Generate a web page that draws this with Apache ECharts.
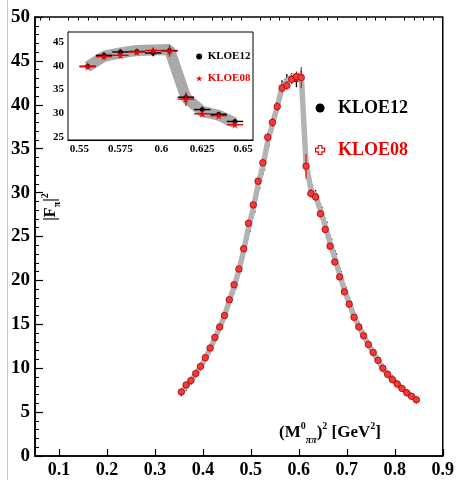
<!DOCTYPE html>
<html>
<head>
<meta charset="utf-8">
<script src="https://cdn.jsdelivr.net/npm/echarts@6/dist/echarts.min.js"></script>
<style>
html, body { margin: 0; padding: 0; background: #fff; }
#chart { width: 457px; height: 480px; }
</style>
</head>
<body>
<div id="chart"></div>
<script>
// 分箱中心 (GeV^2)
const binX = [0.355, 0.365, 0.375, 0.385, 0.395, 0.405, 0.415, 0.425, 0.435, 0.445,
              0.455, 0.465, 0.475, 0.485, 0.495, 0.505, 0.515, 0.525, 0.535, 0.545,
              0.555, 0.565, 0.575, 0.585, 0.595, 0.605, 0.615, 0.625, 0.635, 0.645,
              0.655, 0.665, 0.675, 0.685, 0.695, 0.705, 0.715, 0.725, 0.735, 0.745,
              0.755, 0.765, 0.775, 0.785, 0.795, 0.805, 0.815, 0.825, 0.835, 0.845];
const binHalfWidth = 0.005;

// KLOE12
const kloe12Y = [7.2, 7.8, 8.5, 9.3, 10.1, 11.0, 12.1, 13.3, 14.6, 15.9,
                 17.5, 19.0, 21.0, 23.2, 25.6, 27.8, 30.5, 32.6, 35.4, 37.6,
                 39.9, 42.2, 42.9, 43.0, 42.7, 43.2, 33.4, 30.8, 29.8, 28.3,
                 26.6, 24.7, 23.0, 21.0, 19.2, 17.6, 16.1, 14.9, 13.8, 12.8,
                 11.8, 10.9, 10.1, 9.4, 8.8, 8.2, 7.7, 7.2, 6.8, 6.4];
const kloe12Err = [0.4, 0.4, 0.4, 0.4, 0.4, 0.4, 0.4, 0.4, 0.4, 0.5,
                   0.5, 0.5, 0.5, 0.5, 0.5, 0.5, 0.6, 0.6, 0.6, 0.6,
                   0.6, 0.6, 0.6, 0.6, 0.7, 0.7, 0.8, 0.6, 0.5, 0.5,
                   0.5, 0.5, 0.5, 0.5, 0.5, 0.5, 0.5, 0.4, 0.4, 0.4,
                   0.4, 0.4, 0.4, 0.4, 0.4, 0.4, 0.4, 0.4, 0.4, 0.4];

// KLOE08
const kloe08Y = [7.3, 8.1, 8.6, 9.4, 10.2, 11.2, 12.3, 13.5, 14.7, 16.0,
                 17.8, 19.5, 21.3, 23.6, 26.5, 28.6, 31.3, 33.4, 36.3, 38.0,
                 39.8, 41.9, 42.2, 42.9, 43.2, 43.1, 33.0, 29.9, 29.5, 27.6,
                 25.8, 23.9, 22.1, 20.4, 18.7, 17.3, 15.8, 14.7, 13.7, 12.7,
                 11.8, 10.9, 10.0, 9.3, 8.7, 8.2, 7.7, 7.2, 6.8, 6.4];
const kloe08Err = [0.3, 0.3, 0.3, 0.3, 0.3, 0.3, 0.3, 0.3, 0.3, 0.3,
                   0.3, 0.3, 0.3, 0.4, 0.4, 0.4, 0.4, 0.4, 0.5, 0.5,
                   0.5, 0.5, 0.5, 0.5, 0.6, 1.2, 1.4, 0.5, 0.4, 0.4,
                   0.4, 0.4, 0.3, 0.3, 0.3, 0.3, 0.3, 0.3, 0.3, 0.3,
                   0.3, 0.3, 0.3, 0.3, 0.3, 0.3, 0.3, 0.3, 0.3, 0.3];

// 灰色误差带中心
const bandY = [7.25, 7.95, 8.55, 9.35, 10.15, 11.1, 12.2, 13.4, 14.65, 15.95,
               17.65, 19.25, 21.15, 23.4, 26.0, 28.2, 30.9, 33.0, 35.8, 37.8,
               39.8, 42.0, 42.7, 43.2, 43.3, 43.4, 33.3, 30.4, 29.6, 28.0,
               26.2, 24.3, 22.5, 20.7, 18.9, 17.4, 15.9, 14.8, 13.7, 12.7,
               11.8, 10.9, 10.0, 9.3, 8.7, 8.2, 7.7, 7.2, 6.8, 6.4];

// 刻度
const xMajorTicks = [0.1, 0.2, 0.3, 0.4, 0.5, 0.6, 0.7, 0.8, 0.9];
const xMinorTicks = [0.06, 0.08, 0.12, 0.14, 0.16, 0.18, 0.22, 0.24, 0.26, 0.28,
                     0.32, 0.34, 0.36, 0.38, 0.42, 0.44, 0.46, 0.48, 0.52, 0.54,
                     0.56, 0.58, 0.62, 0.64, 0.66, 0.68, 0.72, 0.74, 0.76, 0.78,
                     0.82, 0.84, 0.86, 0.88];
const insetXTicks = [0.55, 0.575, 0.6, 0.625, 0.65];
const insetYTicks = [25, 30, 35, 40, 45];

const serif = 'Liberation Serif';
const starPath = 'path://M5,0L6.2,3.6L10,3.6L7,5.9L8.1,9.5L5,7.3L1.9,9.5L3,5.9L0,3.6L3.8,3.6Z';
const openCrossPath = 'path://M3,0H7V3H10V7H7V10H3V7H0V3H3Z';

const chart = echarts.init(document.getElementById('chart'));

const pts = (ys, errs) => binX.map((x, i) => errs ? [x, ys[i], errs[i]] : [x, ys[i]]);
const inInset = p => p[0] > 0.55 && p[0] < 0.65;

// 误差棒（十字）
function errBar(color, lw) {
    return function (params, api) {
        const x = api.value(0), y = api.value(1), e = api.value(2);
        const l = api.coord([x - binHalfWidth, y]);
        const r = api.coord([x + binHalfWidth, y]);
        const t = api.coord([x, y + e]);
        const b = api.coord([x, y - e]);
        return {
            type: 'group',
            children: [
                { type: 'line', shape: { x1: l[0], y1: l[1], x2: r[0], y2: r[1] }, style: { stroke: color, lineWidth: lw } },
                { type: 'line', shape: { x1: t[0], y1: t[1], x2: b[0], y2: b[1] }, style: { stroke: color, lineWidth: lw } }
            ]
        };
    };
}

const axisText = { color: '#000', fontFamily: serif, fontWeight: 'bold' };

const option = {
    animation: false,
    backgroundColor: '#fff',
    grid: [
        { left: 35, right: 14, top: 17, bottom: 24, show: true, borderColor: '#000', borderWidth: 1.5 },
        { left: 68, top: 32, width: 185, height: 108, show: true, borderColor: '#000', borderWidth: 1, backgroundColor: '#fff', z: 5 }
    ],
    xAxis: [
        {
            type: 'value', gridIndex: 0, min: 0.05, max: 0.9,
            axisLine: { lineStyle: { color: '#000', width: 1.5 } },
            axisTick: { inside: true, length: 7, customValues: xMajorTicks, lineStyle: { color: '#000', width: 1.2 } },
            axisLabel: Object.assign({ customValues: xMajorTicks, fontSize: 18, margin: 5, formatter: v => v.toFixed(1) }, axisText),
            splitLine: { show: false }
        },
        {
            type: 'value', gridIndex: 0, min: 0.05, max: 0.9,
            axisLine: { show: false },
            axisTick: { inside: true, length: 3.5, customValues: xMinorTicks, lineStyle: { color: '#000', width: 1 } },
            axisLabel: { show: false },
            splitLine: { show: false }
        },
        {
            type: 'value', gridIndex: 1, min: 0.543, max: 0.656,
            axisLine: { lineStyle: { color: '#000', width: 1 } },
            axisTick: { inside: true, length: 5, customValues: insetXTicks, lineStyle: { color: '#000' } },
            axisLabel: Object.assign({ customValues: insetXTicks, fontSize: 11, margin: 4, formatter: v => String(v) }, axisText),
            splitLine: { show: false }
        }
    ],
    yAxis: [
        {
            type: 'value', gridIndex: 0, min: 0, max: 50, interval: 5,
            axisLine: { show: true, lineStyle: { color: '#000', width: 1.5 } },
            axisTick: { show: true, inside: true, length: 8, lineStyle: { color: '#000', width: 1.2 } },
            minorTick: { show: true, splitNumber: 5, length: 4, lineStyle: { color: '#000', width: 1 } },
            axisLabel: Object.assign({ fontSize: 19, margin: 5 }, axisText),
            splitLine: { show: false }
        },
        {
            type: 'value', gridIndex: 1, min: 24.4, max: 47.1,
            axisLine: { show: true, lineStyle: { color: '#000', width: 1 } },
            axisTick: { show: true, inside: true, length: 5, customValues: insetYTicks, lineStyle: { color: '#000' } },
            axisLabel: Object.assign({ customValues: insetYTicks, fontSize: 11, margin: 4 }, axisText),
            splitLine: { show: false }
        }
    ],
    legend: [
        {
            orient: 'vertical', left: 310, top: 94, itemWidth: 26, itemHeight: 9, itemGap: 24,
            selectedMode: false,
            textStyle: { fontFamily: serif, fontWeight: 'bold', fontSize: 18 },
            data: [
                { name: 'KLOE12', icon: 'circle', itemStyle: { color: '#000' }, textStyle: { color: '#000' } },
                { name: 'KLOE08', icon: openCrossPath, itemStyle: { color: '#fff', borderColor: '#e00', borderWidth: 1.2 }, textStyle: { color: '#e00' } }
            ]
        },
        {
            orient: 'vertical', left: 191, top: 46, itemWidth: 7, itemHeight: 6, itemGap: 11,
            selectedMode: false, z: 10,
            textStyle: { fontFamily: serif, fontWeight: 'bold', fontSize: 11 },
            data: [
                { name: 'KLOE12', icon: 'circle', itemStyle: { color: '#000' }, textStyle: { color: '#000' } },
                { name: 'KLOE08', icon: starPath, itemStyle: { color: '#e00' }, textStyle: { color: '#e00' } }
            ]
        }
    ],
    graphic: [
        { type: 'line', shape: { x1: 7.5, y1: 0, x2: 7.5, y2: 480 }, style: { stroke: '#c4bfe8', lineWidth: 1 } },
        {
            type: 'text', x: 51, y: 207, rotation: Math.PI / 2,
            style: {
                text: '{n||F}{s|π}{n||}{p|2}',
                align: 'center', verticalAlign: 'middle',
                rich: {
                    n: { fontFamily: serif, fontWeight: 'bold', fontSize: 16, lineHeight: 22, fill: '#000' },
                    s: { fontFamily: serif, fontWeight: 'bold', fontSize: 10, lineHeight: 22, verticalAlign: 'bottom', fill: '#000' },
                    p: { fontFamily: serif, fontWeight: 'bold', fontSize: 10, lineHeight: 22, verticalAlign: 'top', fill: '#000' }
                }
            }
        },
        {
            type: 'text', x: 330, y: 433,
            style: {
                text: '{n|(M}{p|0}{s|ππ}{n|)}{p|2}{n| [GeV}{p|2}{n|]}',
                align: 'center', verticalAlign: 'middle',
                rich: {
                    n: { fontFamily: serif, fontWeight: 'bold', fontSize: 17, lineHeight: 24, fill: '#000' },
                    s: { fontFamily: serif, fontWeight: 'bold', fontStyle: 'italic', fontSize: 10, lineHeight: 24, verticalAlign: 'bottom', fill: '#000' },
                    p: { fontFamily: serif, fontWeight: 'bold', fontSize: 10, lineHeight: 24, verticalAlign: 'top', fill: '#000' }
                }
            }
        }
    ],
    series: [
        // 主图
        {
            name: 'band', type: 'line', xAxisIndex: 0, yAxisIndex: 0, data: pts(bandY),
            showSymbol: false, silent: true, lineStyle: { color: '#b3b3b3', width: 5.5 }
        },
        {
            name: 'KLOE12', type: 'custom', xAxisIndex: 0, yAxisIndex: 0, data: pts(kloe12Y, kloe12Err),
            renderItem: errBar('#000', 1.3), itemStyle: { color: '#000' }, z: 3
        },
        {
            name: 'KLOE08', type: 'custom', xAxisIndex: 0, yAxisIndex: 0, data: pts(kloe08Y, kloe08Err),
            renderItem: errBar('#e00', 1.1), itemStyle: { color: '#e00' }, z: 4
        },
        {
            name: 'KLOE08', type: 'scatter', xAxisIndex: 0, yAxisIndex: 0, data: pts(kloe08Y),
            symbol: 'circle', symbolSize: 6.5,
            itemStyle: { color: '#ef3b3b', borderColor: '#b00000', borderWidth: 0.8, opacity: 1 }, z: 5
        },
        // 插图
        {
            name: 'band', type: 'line', xAxisIndex: 2, yAxisIndex: 1, data: pts(bandY).filter(inInset),
            showSymbol: false, silent: true, lineStyle: { color: '#a9a9a9', width: 11 }, z: 6
        },
        {
            name: 'KLOE12', type: 'custom', xAxisIndex: 2, yAxisIndex: 1, data: pts(kloe12Y, kloe12Err).filter(inInset),
            renderItem: errBar('#000', 1.4), itemStyle: { color: '#000' }, z: 7
        },
        {
            name: 'KLOE12', type: 'scatter', xAxisIndex: 2, yAxisIndex: 1, data: pts(kloe12Y).filter(inInset),
            symbol: 'circle', symbolSize: 5, itemStyle: { color: '#000' }, z: 7
        },
        {
            name: 'KLOE08', type: 'custom', xAxisIndex: 2, yAxisIndex: 1, data: pts(kloe08Y, kloe08Err).filter(inInset),
            renderItem: errBar('#e00', 1.4), itemStyle: { color: '#e00' }, z: 8
        },
        {
            name: 'KLOE08', type: 'scatter', xAxisIndex: 2, yAxisIndex: 1, data: pts(kloe08Y).filter(inInset),
            symbol: starPath, symbolSize: 8, itemStyle: { color: '#e00' }, z: 8
        }
    ]
};

chart.setOption(option);
</script>
</body>
</html>
